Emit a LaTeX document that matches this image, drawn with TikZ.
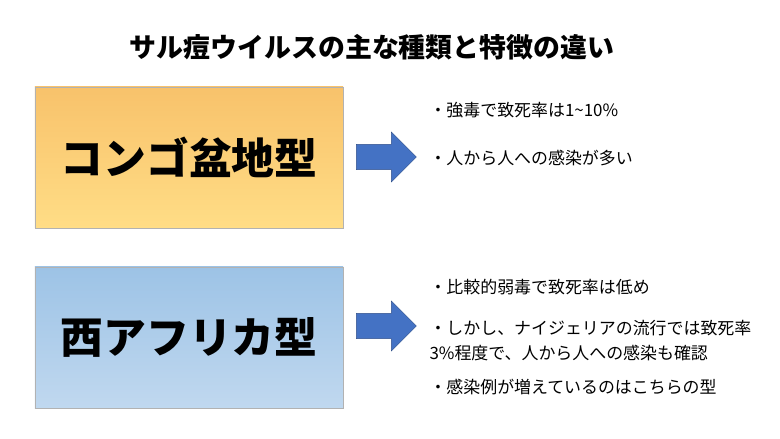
\documentclass[tikz,border=0pt]{standalone}
\usepackage{fontspec}
\setmainfont{Noto Sans CJK JP}
\usetikzlibrary{shapes.arrows,positioning}
\definecolor{topor}{HTML}{F8C26B}
\definecolor{botor}{HTML}{FFDD86}
\definecolor{topbl}{HTML}{9DC3E6}
\definecolor{botbl}{HTML}{C0D8EF}
\definecolor{arrbl}{HTML}{4472C4}
\tikzset{
  %boxes for the two types
  typebox/.style={
    rectangle,
    draw=black!30,
    minimum width=308bp,
    minimum height=141bp,
    font=\bfseries\fontsize{43}{48}\selectfont},
  %block arrows
  blockarrow/.style={
    single arrow,
    draw=arrbl!70!black,
    fill=arrbl,
    minimum width=50bp,
    minimum height=60bp,
    single arrow head extend=10bp,
    single arrow head indent=0bp,
    inner sep=0pt,
    text width=25bp},
  %bullet texts
  point/.style={
    anchor=west,
    font=\fontsize{17}{25}\selectfont,
    align=left}
}
\begin{document}
\begin{tikzpicture}[x=1bp,y=-1bp]
\useasboundingbox (0,0) rectangle (780,439);
%title
\node[font=\bfseries\fontsize{27}{31}\selectfont] (title) at (372,47)
     {サル痘ウイルスの主な種類と特徴の違い};
%boxes
\node[typebox, top color=topor, bottom color=botor] (congo) at (189,157.5) {コンゴ盆地型};
\node[typebox, top color=topbl, bottom color=botbl] (west) at (189,337.5) {西アフリカ型};
%arrows
\node[blockarrow, minimum height=60bp, text height=20bp] (arrA) at (380,157) {};
\node[blockarrow, text height=20bp] (arrB) at (380,326) {};
%points
\node[point] (pA1) at (426,110) {・強毒で致死率は1\textasciitilde 10\%};
\node[point] (pA2) at (426,158) {・人から人への感染が多い};
\node[point] (pB1) at (426,287) {・比較的弱毒で致死率は低め};
\node[point] (pB2) at (426,341) {・しかし、ナイジェリアの流行では致死率\\3\%程度で、人から人への感染も確認};
\node[point] (pB3) at (426,387) {・感染例が増えているのはこちらの型};
\end{tikzpicture}
\end{document}
